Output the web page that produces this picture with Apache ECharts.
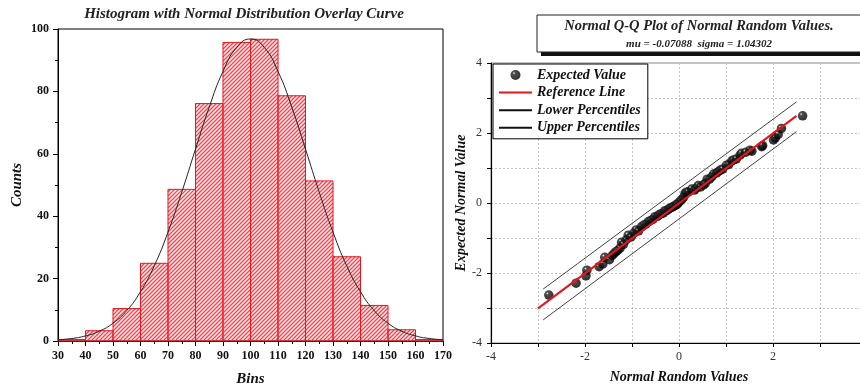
<!DOCTYPE html>
<html><head><meta charset="utf-8">
<script src="https://cdn.jsdelivr.net/npm/echarts@6/dist/echarts.min.js"></script>
<style>html,body{margin:0;padding:0;background:#fff}#c{width:860px;height:388px}</style>
</head><body><div id="c"></div>
<script>
// ---------- Histogram data ----------
const binStarts = [30,40,50,60,70,80,90,100,110,120,130,140,150,160];
const binWidth = 10;
const binCounts = [0.5,3.3,10.4,24.9,48.6,76.1,95.7,96.7,78.6,51.3,27.0,11.4,3.6,0.5];
const curveX = [30,35,40,45,50,55,60,65,70,75,80,85,90,95,100,105,110,115,120,125,130,135,140,145,150,155,160,165,170];
const curveY = [0.37,0.8,1.63,3.14,5.69,9.75,15.8,24.1,34.9,47.7,61.5,75.0,86.4,94.1,96.8,94.1,86.4,75.0,61.5,47.7,34.9,24.1,15.8,9.75,5.69,3.14,1.63,0.8,0.37];

// ---------- Q-Q data ----------
const qqX = [-2.77,-2.19,-1.98,-1.96,-1.70,-1.62,-1.58,-1.48,-1.42,-1.38,-1.34,-1.30,-1.25,-1.22,-1.18,-1.12,-1.08,-1.02,-0.96,-0.91,-0.86,-0.80,-0.75,-0.70,-0.65,-0.60,-0.55,-0.51,-0.46,-0.42,-0.38,-0.33,-0.30,-0.26,-0.22,-0.19,-0.15,-0.12,-0.08,-0.05,-0.02,0.02,0.06,0.10,0.13,0.16,0.20,0.27,0.33,0.37,0.41,0.46,0.52,0.56,0.60,0.65,0.70,0.74,0.80,0.84,0.88,0.93,1.01,1.06,1.12,1.16,1.22,1.30,1.33,1.42,1.51,1.55,1.76,1.78,2.01,2.05,2.11,2.18,2.63];
const qqY = [-2.63,-2.29,-2.08,-1.92,-1.82,-1.74,-1.55,-1.62,-1.50,-1.44,-1.39,-1.35,-1.28,-1.12,-1.18,-1.05,-0.92,-0.97,-0.86,-0.77,-0.80,-0.68,-0.63,-0.60,-0.53,-0.50,-0.46,-0.39,-0.38,-0.33,-0.31,-0.28,-0.22,-0.22,-0.17,-0.15,-0.12,-0.10,-0.07,-0.04,-0.01,0.05,0.10,0.17,0.28,0.31,0.32,0.40,0.37,0.43,0.50,0.46,0.52,0.56,0.68,0.68,0.75,0.83,0.86,0.90,0.94,0.97,1.08,1.10,1.20,1.23,1.26,1.37,1.42,1.45,1.51,1.48,1.61,1.64,1.80,1.86,1.96,2.13,2.49];
const refLineX = [-3.0, 2.5];
const refLineY = [-3.01, 2.49];
const upperX = [-2.89, 2.5];
const upperY = [-2.46, 2.89];
const lowerX = [-2.89, 2.5];
const lowerY = [-3.34, 2.04];

const serif = '"Liberation Serif","Times New Roman",serif';
function zip(a,b){return a.map((v,i)=>[v,b[i]]);}

const chart = echarts.init(document.getElementById('c'), null, {renderer:'canvas'});
const ballColor = {type:'radial', x:0.35, y:0.32, r:0.65, colorStops:[{offset:0,color:'#ffffff'},{offset:0.08,color:'#aaaaaa'},{offset:0.22,color:'#222'},{offset:1,color:'#000'}]};

chart.setOption({
  animation:false,
  backgroundColor:'#fff',
  grid:[
    {left:58, top:29, width:385, height:312, show:true, borderColor:'#000', borderWidth:1, outerBoundsMode:'none', containLabel:false},
    {left:491, top:63, width:376, height:280, show:true, borderColor:'#888', borderWidth:1, outerBoundsMode:'none', containLabel:false}
  ],
  xAxis:[
    {gridIndex:0, type:'value', min:30, max:170, interval:10,
     name:'Bins', nameLocation:'middle', nameGap:31,
     nameTextStyle:{fontFamily:serif, fontSize:15, fontWeight:'bold', fontStyle:'italic', color:'#111'},
     axisLine:{lineStyle:{color:'#000', width:1}},
     axisTick:{length:5, lineStyle:{color:'#000'}},
     minorTick:{show:true, splitNumber:2, length:3, lineStyle:{color:'#000'}},
     splitLine:{show:false},
     axisLabel:{fontFamily:serif, fontSize:12, fontWeight:'bold', color:'#111', margin:9}},
    {gridIndex:1, type:'value', min:-4, max:4, interval:1,
     name:'Normal Random Values', nameLocation:'middle', nameGap:27,
     nameTextStyle:{fontFamily:serif, fontSize:14, fontWeight:'bold', fontStyle:'italic', color:'#111'},
     axisLine:{onZero:false, lineStyle:{color:'#000', width:1.2}},
     axisTick:{length:4, lineStyle:{color:'#000'}},
     splitLine:{show:true, lineStyle:{color:'#c4c4c4', type:[2,2], width:1}},
     axisLabel:{fontFamily:serif, fontSize:12, color:'#333', margin:8, formatter:v=> (v%2===0? String(v):'')}}
  ],
  yAxis:[
    {gridIndex:0, type:'value', min:0, max:100, interval:20,
     name:'Counts', nameLocation:'middle', nameGap:33,
     nameTextStyle:{fontFamily:serif, fontSize:15, fontWeight:'bold', fontStyle:'italic', color:'#111'},
     axisLine:{show:true, lineStyle:{color:'#000', width:1}},
     axisTick:{show:true, length:5, lineStyle:{color:'#000'}},
     minorTick:{show:true, splitNumber:2, length:3, lineStyle:{color:'#000'}},
     splitLine:{show:false},
     axisLabel:{fontFamily:serif, fontSize:12, fontWeight:'bold', color:'#111', margin:9}},
    {gridIndex:1, type:'value', min:-4, max:4, interval:1,
     name:'Expected Normal Value', nameLocation:'middle', nameGap:22,
     nameTextStyle:{fontFamily:serif, fontSize:14, fontWeight:'bold', fontStyle:'italic', color:'#111'},
     axisLine:{show:true, onZero:false, lineStyle:{color:'#000', width:1.2}},
     axisTick:{show:true, length:4, lineStyle:{color:'#000'}},
     splitLine:{show:true, lineStyle:{color:'#c4c4c4', type:[2,2], width:1}},
     axisLabel:{fontFamily:serif, fontSize:12, color:'#333', margin:9, formatter:v=> (v%2===0? String(v):'')}}
  ],
  legend:{
    orient:'vertical', left:493, top:64, itemWidth:33, itemHeight:10, itemGap:3.6,
    padding:[4,7,4,5], borderColor:'#000', borderWidth:1, backgroundColor:'#fff',
    textStyle:{fontFamily:serif, fontSize:14, fontWeight:'bold', fontStyle:'italic', color:'#111'},
    data:[
      {name:'Expected Value'},
      {name:'Reference Line', itemStyle:{opacity:0}},
      {name:'Lower Percentiles', itemStyle:{opacity:0}},
      {name:'Upper Percentiles', itemStyle:{opacity:0}}
    ]
  },
  graphic:[
    {type:'text', x:244, y:14, style:{text:'Histogram with Normal Distribution Overlay Curve', align:'center', verticalAlign:'middle', font:'italic bold 15px '+serif, fill:'#222'}},
    {type:'rect', shape:{x:541, y:19, width:330, height:37}, style:{fill:'#111'}},
    {type:'rect', shape:{x:537, y:15, width:330, height:37}, style:{fill:'#fff', stroke:'#222', lineWidth:1}},
    {type:'text', x:699, y:26, style:{text:'Normal Q-Q Plot of Normal Random Values.', align:'center', verticalAlign:'middle', font:'italic bold 14.5px '+serif, fill:'#222'}},
    {type:'text', x:699, y:44, style:{text:'mu = -0.07088  sigma = 1.04302', align:'center', verticalAlign:'middle', font:'italic bold 11px '+serif, fill:'#222'}}
  ],
  series:[
    {type:'custom', xAxisIndex:0, yAxisIndex:0, encode:{x:[0,1], y:2},
     data: binStarts.map((s,i)=>[s, s+binWidth, binCounts[i]]),
     renderItem:(params, api)=>{
       const p0=api.coord([api.value(0), api.value(2)]);
       const p1=api.coord([api.value(1), 0]);
       const x0=p0[0], y0=p0[1], x1=p1[0], y1=p1[1];
       const s=4;
       let d='';
       for(let k=Math.ceil((x0+y0)/s)*s; k<=x1+y1; k+=s){
         const xa=Math.max(x0, k-y1), xb=Math.min(x1, k-y0);
         if(xb>xa) d+='M'+xa.toFixed(2)+','+(k-xa).toFixed(2)+'L'+xb.toFixed(2)+','+(k-xb).toFixed(2);
       }
       const children=[];
       children.push({type:'rect', shape:{x:x0, y:y0, width:x1-x0, height:y1-y0}, style:{fill:'rgba(240,70,80,0.1)', stroke:null}});
       if(d) children.push({type:'path', shape:{pathData:d}, style:{fill:null, stroke:'#f04650', lineWidth:1.3}});
       children.push({type:'rect', shape:{x:x0, y:y0, width:x1-x0, height:y1-y0}, style:{fill:null, stroke:'#e8141c', lineWidth:1}});
       return {type:'group', children};
     }},
    {type:'line', xAxisIndex:0, yAxisIndex:0, data:zip(curveX,curveY), smooth:true, symbol:'none',
     lineStyle:{color:'#222', width:1}},
    {name:'Lower Percentiles', type:'line', xAxisIndex:1, yAxisIndex:1, data:zip(lowerX,lowerY), symbol:'none',
     lineStyle:{color:'#111', width:0.8}, itemStyle:{color:'#111'}},
    {name:'Upper Percentiles', type:'line', xAxisIndex:1, yAxisIndex:1, data:zip(upperX,upperY), symbol:'none',
     lineStyle:{color:'#111', width:0.8}, itemStyle:{color:'#111'}},
    {name:'Expected Value', type:'scatter', xAxisIndex:1, yAxisIndex:1, data:zip(qqX,qqY), symbol:'circle', symbolSize:9.5,
     itemStyle:{color:ballColor}},
    {name:'Reference Line', type:'line', xAxisIndex:1, yAxisIndex:1, data:zip(refLineX,refLineY), symbol:'none',
     lineStyle:{color:'#e8141c', width:2}, itemStyle:{color:'#e8141c'}}
  ]
});
</script>
</body></html>
